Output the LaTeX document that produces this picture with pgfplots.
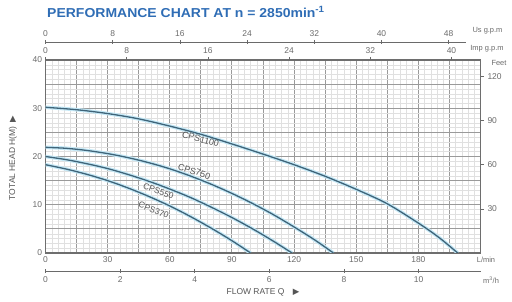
\documentclass[border=0pt]{standalone}
\usepackage{pgfplots}
\pgfplotsset{compat=1.18}
\usepackage{pgfplotstable}
\usepackage{fontspec}
\setmainfont{Liberation Sans}
\newfontfamily\symfont{DejaVu Sans}
\definecolor{titleblue}{HTML}{2F6DB5}
\definecolor{curvecol}{HTML}{3F6479}
\definecolor{halocol}{HTML}{C4E8F6}
\definecolor{lbl}{HTML}{6A6A6A}
\definecolor{txt}{HTML}{555555}
\definecolor{majgrid}{HTML}{9A9A9A}
\definecolor{mingrid}{HTML}{E0E0E0}
\definecolor{framecol}{HTML}{6E6E6E}

\pgfplotstableread{
q h
0 30.2
15 29.7
30 28.9
45 27.8
60 26.3
75 24.6
90 22.6
105 20.5
120 18.3
135 15.9
150 13.2
165 10.2
180 6.2
190 3.2
199 0
}\cpsA
\pgfplotstableread{
q h
0 21.9
10 21.7
20 21.25
30 20.6
40 19.75
50 18.7
60 17.45
70 15.95
80 14.25
90 12.35
100 10.25
110 7.95
120 5.4
130 2.7
139 0
}\cpsB
\pgfplotstableread{
q h
0 20.0
10 19.35
20 18.5
30 17.5
40 16.25
50 14.85
60 13.25
70 11.5
80 9.5
90 7.35
100 5.0
110 2.45
119 0
}\cpsC
\pgfplotstableread{
q h
0 18.3
10 17.4
20 16.3
30 15.0
40 13.45
50 11.7
60 9.75
70 7.55
80 5.15
90 2.55
99 0
}\cpsD

\pgfplotsset{
  base/.style={scale only axis, height=193bp, anchor=south west,
    tick label style={font=\fontsize{8.5}{10}\selectfont, text=lbl},
    /pgf/number format/assume math mode=true,
    tick style={lbl, line width=0.6bp}},
  haloline/.style={draw=halocol, line width=3.6bp, smooth},
  pumpline/.style={draw=curvecol, line width=1.3bp, smooth},
}
\tikzset{cpslbl/.style={text=txt, font=\fontsize{9}{10}\selectfont, inner sep=0pt}}

\begin{document}
\begin{tikzpicture}
\path[use as bounding box] (-45.5bp,-49bp) rectangle (466.5bp,253bp);

% main axis
\begin{axis}[base, width=435bp, at={(0,0)},
  xmin=0,xmax=210,ymin=0,ymax=40,
  xtick={0,15,...,210}, xticklabels={0,,30,,60,,90,,120,,150,,180,,},
  ytick={0,5,...,40}, yticklabels={0,,10,,20,,30,,40},
  minor x tick num=4, minor y tick num=4,
  grid=both,
  major grid style={majgrid, line width=0.9bp},
  minor grid style={mingrid, line width=0.4bp},
  axis line style={framecol, line width=1.4bp},
  tick pos=left, major tick length=0pt, minor tick length=0pt,
]
\addplot[haloline] table {\cpsA};
\addplot[haloline] table {\cpsB};
\addplot[haloline] table {\cpsC};
\addplot[haloline] table {\cpsD};
\addplot[pumpline] table {\cpsA};
\addplot[pumpline] table {\cpsB};
\addplot[pumpline] table {\cpsC};
\addplot[pumpline] table {\cpsD};
\node[cpslbl, rotate=-15] at (axis cs:74.9,23.6) {CPS1100};
\node[cpslbl, rotate=-18] at (axis cs:71.8,16.9) {CPS750};
\node[cpslbl, rotate=-20, font=\fontsize{8.5}{10}\selectfont] at (axis cs:54.5,12.8) {CPS550};
\node[cpslbl, rotate=-22, font=\fontsize{8.5}{10}\selectfont] at (axis cs:52.2,8.9) {CPS370};
\end{axis}

% feet axis (right)
\begin{axis}[base, width=435bp, at={(0,0)},
  xmin=0,xmax=1, ymin=0, ymax=131.234,
  hide x axis, axis y line*=right, y axis line style={draw=none},
  ytick={30,60,90,120}, tick align=outside, major tick length=3.5bp,
]
\end{axis}

% Imp gpm (top)
\begin{axis}[base, width=435bp, at={(0,0)},
  xmin=0, xmax=42.86, ymin=0, ymax=1,
  hide y axis, axis x line*=top, x axis line style={draw=none},
  xtick={0,8,...,40}, tick align=outside, major tick length=3bp,
]
\end{axis}

% US gpm (top line)
\begin{axis}[base, width=420bp, at={(0,18bp)},
  xmin=0, xmax=50, ymin=0, ymax=1,
  hide y axis, axis x line*=top, x axis line style={lbl, line width=0.6bp, -},
  xtick={0,8,...,48}, tick align=center, major tick length=4bp,
]
\end{axis}

% m3/h (bottom line)
\begin{axis}[base, width=435bp, at={(0,-18bp)},
  xmin=0, xmax=11.66, ymin=0, ymax=1,
  hide y axis, axis x line*=bottom, x axis line style={lbl, line width=0.6bp, -},
  xtick={0,2,...,10}, tick align=center, major tick length=4bp,
]
\end{axis}

\node[anchor=west, text=titleblue, font=\bfseries\fontsize{13}{15}\selectfont, inner sep=0pt, xscale=1.08] at (1.5bp,241bp) {PERFORMANCE CHART AT n = 2850min\textsuperscript{-1}};
\node[text=lbl, font=\fontsize{7.5}{9}\selectfont] at (442bp,222bp) {Us g.p.m};
\node[text=lbl, font=\fontsize{7.5}{9}\selectfont] at (441.5bp,204bp) {Imp g.p.m};
\node[text=lbl, font=\fontsize{7.5}{9}\selectfont] at (453.5bp,190bp) {Feet};
\node[text=lbl, font=\fontsize{7.5}{9}\selectfont] at (440.5bp,-7bp) {L/min};
\node[text=lbl, font=\fontsize{7.5}{9}\selectfont] at (445.5bp,-27bp) {m\textsuperscript{3}/h};
\node[text=txt, font=\fontsize{8.5}{10}\selectfont] at (217.5bp,-39bp) {FLOW RATE Q\quad{\symfont ▶}};
\node[rotate=90, text=txt, font=\fontsize{8.5}{10}\selectfont] at (-32.5bp,95bp) {TOTAL HEAD H(M)\enspace{\symfont ▶}};
\end{tikzpicture}
\end{document}
